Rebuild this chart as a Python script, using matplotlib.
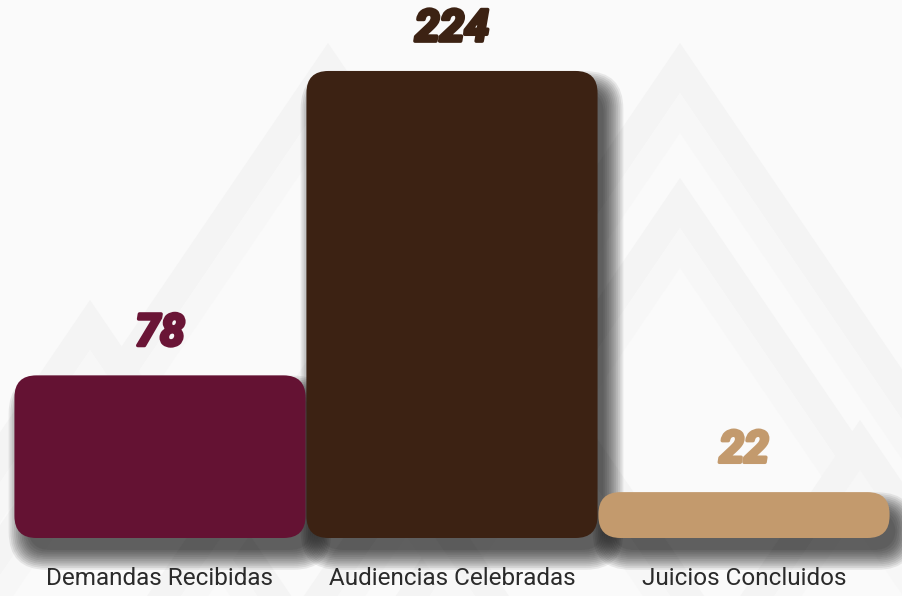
import matplotlib
matplotlib.use("Agg")
import matplotlib.pyplot as plt
import matplotlib.patheffects as pe
from matplotlib.patches import FancyBboxPatch, Polygon

CATEGORIES = ["Demandas Recibidas", "Audiencias Celebradas", "Juicios Concluidos"]
VALUES = [78, 224, 22]
BAR_COLORS = ["#641233", "#3c2213", "#c39a6d"]
LABEL_COLORS = ["#6a1536", "#3c2213", "#c39a6d"]

W, H = 903, 596
X_PX = 292.0      # pixels per category step
Y_PX = 2.085      # pixels per value unit
X0_PX, BASE_PX = 160, 538


def px_to_ax(x, y):
    return x / W, 1 - y / H


def chevron(ax, apex_x, apex_y, arm, thick, color):
    s = 1.47
    pts = [(apex_x - arm, apex_y + s * arm), (apex_x, apex_y),
           (apex_x + arm, apex_y + s * arm), (apex_x + arm, apex_y + s * arm + thick),
           (apex_x, apex_y + thick), (apex_x - arm, apex_y + s * arm + thick)]
    ax.add_patch(Polygon([px_to_ax(*p) for p in pts], closed=True, facecolor=color,
                         edgecolor="none", transform=ax.transAxes, zorder=0))


fig = plt.figure(figsize=(W / 100, H / 100), dpi=100, facecolor="#fafafa")
ax = fig.add_axes([0, 0, 1, 1])
ax.set_facecolor("#fafafa")
ax.set_xlim(-X0_PX / X_PX, (W - X0_PX) / X_PX)
ax.set_ylim(-(H - BASE_PX) / Y_PX, BASE_PX / Y_PX)
ax.axis("off")

# faint chevron background
for apx, apy in [(680, 43), (680, 178), (328, 43), (90, 300), (328, 330), (860, 420)]:
    chevron(ax, apx, apy, 520, 50, "#f4f4f4")
    chevron(ax, apx, apy + 50, 520, 40, "#f7f7f7")

bars = ax.bar(range(len(VALUES)), VALUES, width=0.997, color="none")
aspect = X_PX / Y_PX
radius = 22 / X_PX
dx, dy = 10 / X_PX, 16 / Y_PX

for rect in bars:
    rect.set_visible(False)
    x, y, w, h = rect.get_x(), rect.get_y(), rect.get_width(), rect.get_height()
    # soft shadow, offset right and down
    for k in range(12):
        p = (-4 + k * 1.8) / X_PX
        ax.add_patch(FancyBboxPatch(
            (x + dx, y - dy), w, h,
            boxstyle=f"round,pad={p},rounding_size={radius + max(p, 0)}",
            mutation_aspect=aspect, facecolor="black", edgecolor="none",
            alpha=0.075, zorder=1))

for rect, color in zip(bars, BAR_COLORS):
    x, y, w, h = rect.get_x(), rect.get_y(), rect.get_width(), rect.get_height()
    ax.add_patch(FancyBboxPatch(
        (x, y), w, h, boxstyle=f"round,pad=0,rounding_size={radius}",
        mutation_aspect=aspect, facecolor=color, edgecolor="none", zorder=3))

for i, (v, c) in enumerate(zip(VALUES, LABEL_COLORS)):
    ax.annotate(str(v), (i, v), xytext=(0, 15), textcoords="offset points",
                ha="center", va="bottom", fontsize=32, fontweight="bold",
                fontstyle="italic", family="Roboto", color=c, zorder=4,
                path_effects=[pe.withStroke(linewidth=2.5, foreground=c)])

for i, name in enumerate(CATEGORIES):
    ax.text(i, 0.030, name, transform=ax.get_xaxis_transform(), ha="center",
            va="center", fontsize=17.5, family="Roboto", color="#2b2b2b", zorder=4)

fig.savefig("out.png", dpi=100, facecolor=fig.get_facecolor())
